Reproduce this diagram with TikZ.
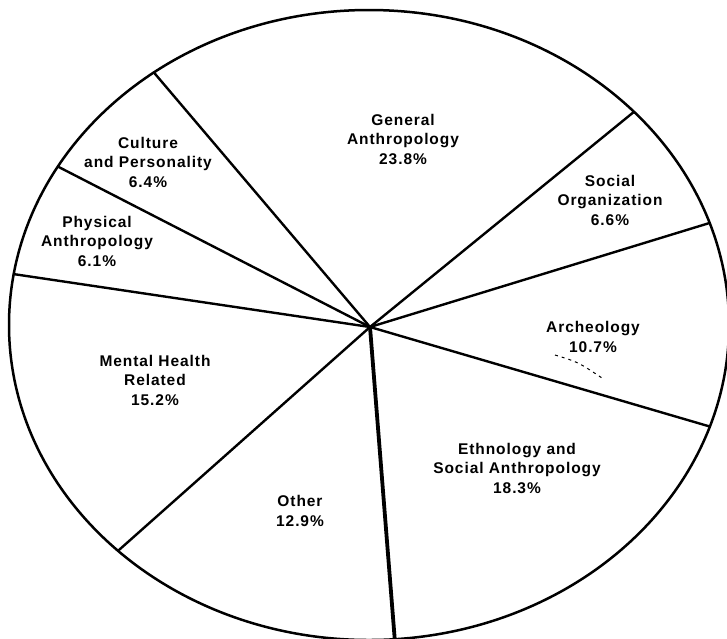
\documentclass[tikz,border=0pt]{standalone}
\usepackage{fontspec}
\newfontfamily\lblfont{Liberation Sans}[LetterSpace=6]
\usetikzlibrary{calc}
\begin{document}
\begin{tikzpicture}[x=1pt,y=-1pt,
  lbl/.style={align=center,inner sep=0pt,font=\lblfont\bfseries\fontsize{15.5}{19.5}\selectfont},
  sector/.style={line width=2.4pt,line cap=round},
  rim/.style={line width=2.5pt},
  noise/.style={line width=1pt,dash pattern=on 3pt off 4pt}]
\useasboundingbox (0,0) rectangle (727,638);
\coordinate (c) at (369,325);
\coordinate (o) at (370,327);
\draw[rim] (c) ellipse [x radius=360pt, y radius=315pt];
\coordinate (p1) at ($(c)+(126.7:360pt and 315pt)$);
\coordinate (p2) at ($(c)+(149.8:360pt and 315pt)$);
\coordinate (p3) at ($(c)+(170.7:360pt and 315pt)$);
\coordinate (p4) at ($(c)+(225.8:360pt and 315pt)$);
\coordinate (p5) at ($(c)+(274.1:360pt and 315pt)$);
\coordinate (p6) at ($(c)+(341.2:360pt and 315pt)$);
\coordinate (p7) at ($(c)+(18.9:360pt and 315pt)$);
\coordinate (p8) at ($(c)+(42.6:360pt and 315pt)$);
\foreach \p in {p1,p2,p3,p4,p6,p7,p8} \draw[sector] (o) -- (\p);
\draw[sector,line width=3.8pt] (o) -- (p5);
\node[lbl] (gen) at (403,139) {General\\Anthropology\\23.8\%};
\node[lbl] (cul) at (148,162) {Culture\\and Personality\\6.4\%};
\node[lbl] (phy) at (97,241) {Physical\\Anthropology\\6.1\%};
\node[lbl] (soc) at (610,200) {Social\\Organization\\6.6\%};
\node[lbl] (arc) at (593,337) {Archeology\\10.7\%};
\node[lbl] (men) at (155,380) {Mental Health\\Related\\15.2\%};
\node[lbl] (eth) at (517,468) {Ethnology and\\Social Anthropology\\18.3\%};
\node[lbl] (oth) at (300,511) {Other\\12.9\%};
\coordinate (n1) at (555,355);
\coordinate (n2) at (602,378);
\draw[noise] (n1) .. controls (578,362) .. (n2);
\end{tikzpicture}
\end{document}
